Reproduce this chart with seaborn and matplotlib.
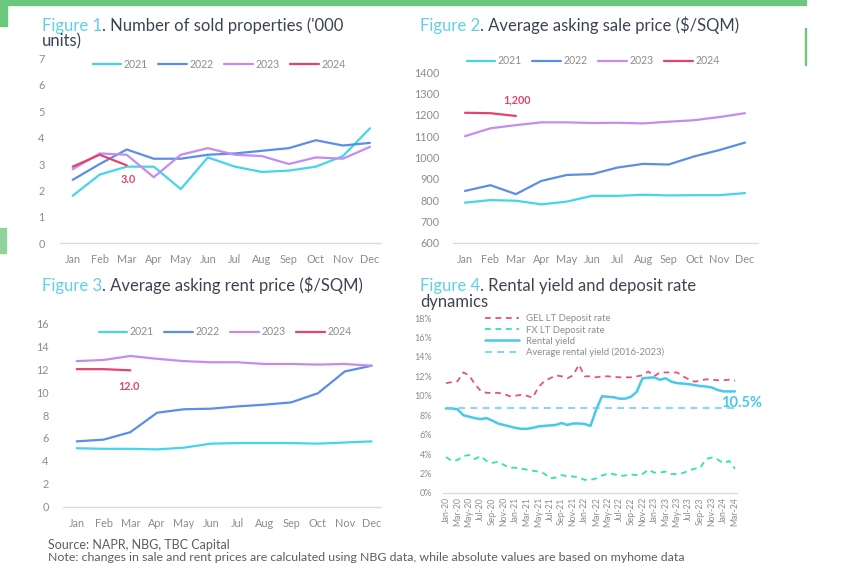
import matplotlib
matplotlib.use("Agg")
import matplotlib.pyplot as plt
from matplotlib.patches import Rectangle
import seaborn as sns
import pandas as pd
import numpy as np

# ---------------- data ----------------
months = ["Jan", "Feb", "Mar", "Apr", "May", "Jun", "Jul", "Aug", "Sep", "Oct", "Nov", "Dec"]
years = ["2021", "2022", "2023", "2024"]

sold_2021 = [1.8, 2.6, 2.9, 2.9, 2.05, 3.25, 2.9, 2.7, 2.75, 2.9, 3.3, 4.35]
sold_2022 = [2.4, 3.0, 3.55, 3.2, 3.2, 3.35, 3.4, 3.5, 3.6, 3.9, 3.7, 3.8]
sold_2023 = [2.8, 3.4, 3.35, 2.5, 3.35, 3.6, 3.35, 3.3, 3.0, 3.25, 3.2, 3.65]
sold_2024 = [2.9, 3.35, 2.95]

sale_2021 = [788, 800, 797, 780, 793, 820, 820, 825, 822, 823, 823, 833]
sale_2022 = [843, 870, 828, 890, 918, 922, 953, 970, 967, 1005, 1035, 1070]
sale_2023 = [1100, 1137, 1152, 1165, 1165, 1162, 1163, 1160, 1168, 1175, 1190, 1208]
sale_2024 = [1210, 1208, 1195]

rent_2021 = [5.1, 5.05, 5.05, 5.0, 5.15, 5.5, 5.55, 5.55, 5.55, 5.5, 5.6, 5.7]
rent_2022 = [5.7, 5.85, 6.5, 8.2, 8.5, 8.55, 8.75, 8.9, 9.1, 9.9, 11.8, 12.3]
rent_2023 = [12.7, 12.8, 13.15, 12.9, 12.7, 12.6, 12.6, 12.45, 12.45, 12.4, 12.45, 12.3]
rent_2024 = [12.0, 12.0, 11.9]

# Figure 4: monthly, Jan-20 .. Mar-24 (51 months)
gel_rate = [11.3, 11.4, 11.5, 12.4, 12.1, 11.2, 10.5, 10.3, 10.3, 10.3, 10.2, 9.95,
            10.0, 10.1, 10.0, 9.8, 10.9, 11.5, 11.8, 12.1, 12.0, 11.8, 12.1, 13.2,
            12.0, 12.0, 11.9, 12.0, 12.0, 11.95, 11.9, 11.9, 11.9, 12.0, 12.1, 12.5,
            12.0, 12.4, 12.4, 12.4, 12.4, 12.0, 11.7, 11.45, 11.55, 11.7, 11.65, 11.6,
            11.6, 11.65, 11.55]
fx_rate = [3.7, 3.3, 3.4, 3.8, 3.9, 3.5, 3.8, 3.3, 3.1, 3.2, 2.9, 2.6,
           2.6, 2.5, 2.4, 2.3, 2.2, 2.0, 1.5, 1.6, 1.85, 1.7, 1.7, 1.6,
           1.35, 1.35, 1.5, 1.8, 2.0, 1.95, 1.75, 1.8, 1.9, 1.85, 1.95, 2.4,
           2.1, 2.1, 2.2, 1.95, 1.95, 2.05, 2.3, 2.5, 2.6, 3.5, 3.65, 3.45,
           3.05, 3.3, 2.5]
rental_yield = [8.7, 8.7, 8.6, 8.0, 7.85, 7.7, 7.6, 7.7, 7.45, 7.15, 7.0, 6.85,
                6.7, 6.6, 6.6, 6.7, 6.85, 6.9, 6.95, 7.0, 7.2, 7.0, 7.15, 7.15,
                7.1, 6.9, 8.6, 9.95, 9.9, 9.85, 9.7, 9.7, 9.9, 10.4, 11.8, 11.85,
                11.9, 11.65, 11.8, 11.45, 11.3, 11.25, 11.2, 11.1, 11.0, 10.95, 10.85, 10.6,
                10.45, 10.45, 10.45]
avg_yield = 8.7
fig4_labels = ["Jan-20", "Mar-20", "May-20", "Jul-20", "Sep-20", "Nov-20",
               "Jan-21", "Mar-21", "May-21", "Jul-21", "Sep-21", "Nov-21",
               "Jan-22", "Mar-22", "May-22", "Jul-22", "Sep-22", "Nov-22",
               "Jan-23", "Mar-23", "May-23", "Jul-23", "Sep-23", "Nov-23",
               "Jan-24", "Mar-24"]

# ---------------- style ----------------
sns.set_theme(style="white")
plt.rcParams["font.family"] = ["Lato", "DejaVu Sans"]

W, H = 843, 568
fig = plt.figure(figsize=(W / 100, H / 100), dpi=100)
fig.patch.set_facecolor("white")

C21, C22, C23, C24 = "#45d4ec", "#5b8ee8", "#c48cf2", "#e3436c"
palette = {"2021": C21, "2022": C22, "2023": C23, "2024": C24}
TITLE_CYAN = "#5fd0e8"
TITLE_DARK = "#3c4452"
TICK = "#8c8c8c"
SPINE = "#dcdcdc"
TFS = 12.0


def px_axes(l, r, top, bottom):
    return fig.add_axes([l / W, 1 - bottom / H, (r - l) / W, (bottom - top) / H])


def style_axes(ax, ypad, xpad, fs=7.8):
    for s in ["left", "right", "top"]:
        ax.spines[s].set_visible(False)
    ax.spines["bottom"].set_color(SPINE)
    ax.spines["bottom"].set_linewidth(1.0)
    ax.tick_params(axis="both", length=0, colors=TICK, labelsize=fs)
    ax.tick_params(axis="y", pad=ypad)
    ax.tick_params(axis="x", pad=xpad)
    ax.set_xlabel("")
    ax.set_ylabel("")
    ax.grid(False)
    ax.set_facecolor("none")


def year_frame(series):
    rows = []
    for yr, vals in zip(years, series):
        for i, v in enumerate(vals):
            rows.append({"idx": i, "month": months[i], "year": yr, "value": v})
    return pd.DataFrame(rows)


def year_panel(ax, series):
    df = year_frame(series)
    sns.lineplot(data=df, x="idx", y="value", hue="year", palette=palette,
                 estimator=None, sort=False, linewidth=1.6, ax=ax, legend=True)
    for ln in ax.lines:
        ln.set_solid_joinstyle("round")
        ln.set_solid_capstyle("round")
    ax.set_xticks(range(12))
    ax.set_xticklabels(months)
    h, l = ax.get_legend_handles_labels()
    ax.get_legend().remove()
    return h, l


def year_legend(ax, h, l, cx, cy):
    ax.legend(h, l, loc="center", bbox_to_anchor=(cx / W, 1 - cy / H),
              bbox_transform=fig.transFigure, ncol=4, frameon=False,
              fontsize=7.6, handlelength=2.7, handletextpad=0.25,
              columnspacing=1.0, borderpad=0, labelcolor=TICK)


def title(x, y, lab, rest, line2=None):
    t = fig.text(x / W, 1 - y / H, lab, color=TITLE_CYAN, fontsize=TFS,
                 ha="left", va="baseline")
    fig.axes[0].annotate(rest, xy=(1, 0), xycoords=t, xytext=(0, 0),
                         textcoords="offset points", ha="left", va="bottom",
                         color=TITLE_DARK, fontsize=TFS, annotation_clip=False)
    if line2:
        fig.text(x / W, 1 - (y + 15.5) / H, line2, color=TITLE_DARK,
                 fontsize=TFS, ha="left", va="baseline")


# ---------------- Figure 1 ----------------
ax1 = px_axes(60, 381, 58.3, 243.3)
h, l = year_panel(ax1, [sold_2021, sold_2022, sold_2023, sold_2024])
ax1.set_xlim(-0.47, 11.41)
ax1.set_ylim(0, 7)
ax1.set_yticks(range(0, 8))
style_axes(ax1, 11, 8)
year_legend(ax1, h, l, 219, 64)
ax1.text(2.05, 2.4, "3.0", color=C24, fontsize=7.8, fontweight="bold",
         ha="center", va="center")

# ---------------- Figure 2 ----------------
ax2 = px_axes(453.3, 757.7, 72.3, 242.7)
h, l = year_panel(ax2, [sale_2021, sale_2022, sale_2023, sale_2024])
ax2.set_xlim(-0.46, 11.5)
ax2.set_ylim(600, 1400)
ax2.set_yticks(range(600, 1401, 100))
style_axes(ax2, 10, 8)
year_legend(ax2, h, l, 593, 61)
ax2.text(2.03, 1270, "1,200", color=C24, fontsize=7.8, fontweight="bold",
         ha="center", va="center")

# ---------------- Figure 3 ----------------
ax3 = px_axes(63.3, 381, 323.3, 506.7)
h, l = year_panel(ax3, [rent_2021, rent_2022, rent_2023, rent_2024])
ax3.set_xlim(-0.5, 11.35)
ax3.set_ylim(0, 16)
ax3.set_yticks(range(0, 17, 2))
style_axes(ax3, 10.5, 8)
year_legend(ax3, h, l, 225, 331.7)
ax3.text(1.95, 10.5, "12.0", color=C24, fontsize=7.8, fontweight="bold",
         ha="center", va="center")

# ---------------- Figure 4 ----------------
ax4 = px_axes(443.3, 736.7, 318, 493)
n = len(rental_yield)
df4 = pd.DataFrame({
    "idx": np.arange(n),
    "gel": gel_rate,
    "fx": fx_rate,
    "ry": rental_yield,
    "avg": [avg_yield] * n,
})
GEL_C, FX_C, RY_C, AVG_C = "#e8527c", "#2fe3b4", "#45c9ee", "#5fd0f0"
sns.lineplot(data=df4, x="idx", y="gel", ax=ax4, color=GEL_C, linewidth=1.3,
             linestyle=(0, (3.2, 2.6)), label="GEL LT Deposit rate")
sns.lineplot(data=df4, x="idx", y="fx", ax=ax4, color=FX_C, linewidth=1.3,
             linestyle=(0, (3.2, 2.6)), label="FX LT Deposit rate")
sns.lineplot(data=df4, x="idx", y="ry", ax=ax4, color=RY_C, linewidth=1.8,
             label="Rental yield")
sns.lineplot(data=df4, x="idx", y="avg", ax=ax4, color=AVG_C, linewidth=1.1,
             linestyle=(0, (4.5, 3.5)), label="Average rental yield (2016-2023)")
ax4.set_xlim(-0.47, 50.3)
ax4.set_ylim(0, 18)
ax4.set_yticks(range(0, 19, 2))
ax4.set_yticklabels([f"{v}%" for v in range(0, 19, 2)])
ax4.set_xticks(range(0, n, 2))
ax4.set_xticklabels(fig4_labels, rotation=90)
style_axes(ax4, 8, 3, fs=6.5)
ax4.tick_params(axis="x", labelsize=6.2)
h4, l4 = ax4.get_legend_handles_labels()
ax4.get_legend().remove()
ax4.legend(h4, l4, loc="upper left", bbox_to_anchor=(485 / W, 1 - 314.5 / H),
           bbox_transform=fig.transFigure, frameon=False, fontsize=6.8,
           handlelength=3.6, handletextpad=0.7, labelspacing=0.22,
           borderpad=0, borderaxespad=0, labelcolor=TICK)
ax4.text(51.2, 9.3, "10.5%", color="#45c9ee", fontsize=10.5, fontweight="bold",
         ha="center", va="center", clip_on=False)

# ---------------- titles ----------------
title(42, 30.5, "Figure 1", ". Number of sold properties ('000", "units)")
title(420, 30.5, "Figure 2", ". Average asking sale price ($/SQM)")
title(42, 291.5, "Figure 3", ". Average asking rent price ($/SQM)")
title(420, 291.5, "Figure 4", ". Rental yield and deposit rate", "dynamics")

# ---------------- footer ----------------
fig.text(48 / W, 1 - 545 / H, "Source: NAPR, NBG, TBC Capital", fontsize=9,
         color="#5e5e5e", ha="left", va="center")
fig.text(48 / W, 1 - 557.5 / H,
         "Note: changes in sale and rent prices are calculated using NBG data, "
         "while absolute values are based on myhome data",
         fontsize=8.9, color="#5e5e5e", ha="left", va="center")

# ---------------- page decorations ----------------
GREEN = "#6cc77e"
fig.patches.append(Rectangle((0, 1 - 4.5 / H), 806 / W, 4.5 / H,
                             transform=fig.transFigure, color=GREEN, zorder=0))
fig.patches.append(Rectangle((0, 1 - 26 / H), 7 / W, 22 / H,
                             transform=fig.transFigure, color=GREEN, zorder=0))
fig.patches.append(Rectangle((0, 1 - 253 / H), 6 / W, 25 / H,
                             transform=fig.transFigure, color="#8fd39b", zorder=0))
fig.patches.append(Rectangle((805 / W, 1 - 65 / H), 1 / W, 37 / H,
                             transform=fig.transFigure, color=GREEN, zorder=0))

fig.savefig("out.png", dpi=100, facecolor="white")
